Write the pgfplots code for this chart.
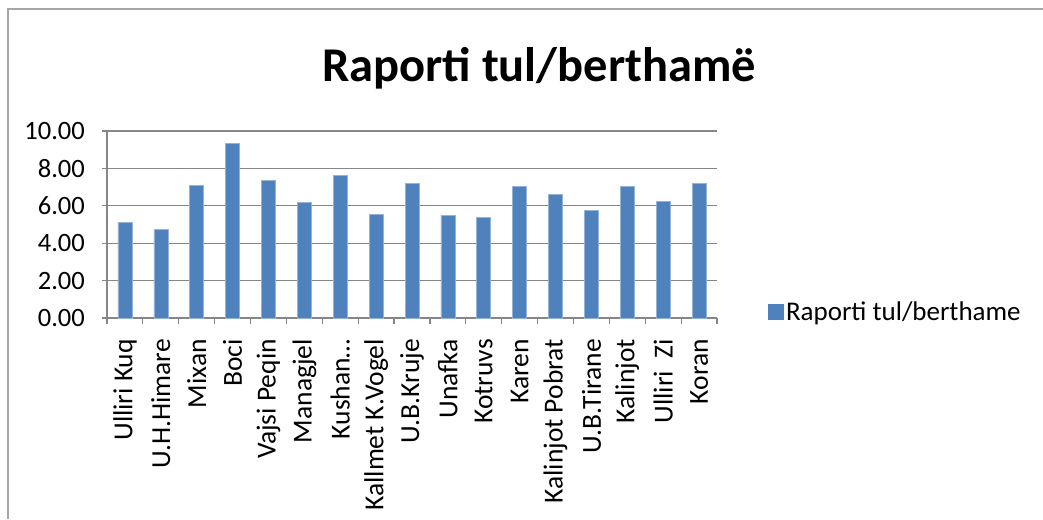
\documentclass[border=0pt]{standalone}
\usepackage{pgfplots}
\pgfplotsset{compat=1.18}
\usepackage{fontspec}
\setmainfont{Carlito}
\definecolor{barblue}{HTML}{4F81BD}
\definecolor{gridgray}{HTML}{868686}
\definecolor{framegray}{HTML}{A6A6A6}
\begin{document}
\begin{tikzpicture}[x=1pt,y=1pt]
\useasboundingbox (0,0) rectangle (1043,519);
\draw[framegray, line width=1.2pt] (8,0) -- (8,510) -- (1043,510);
\node[font=\fontsize{48.5}{52}\selectfont\bfseries] at (539,451) {Raporti tul/berthamë};
\begin{axis}[
  at={(107pt,201pt)}, anchor=south west,
  scale only axis, width=610pt, height=187pt,
  ybar, bar width=14pt,
  xmin=-0.5, xmax=16.5, ymin=0, ymax=10,
  ytick={0,2,...,10},
  yticklabel style={font=\fontsize{26.5}{30}\selectfont, inner sep=0pt,
    /pgf/number format/fixed, /pgf/number format/fixed zerofill, /pgf/number format/precision=2},
  /pgf/number format/assume math mode=true,
  ymajorgrids, grid style={gridgray, line width=1.2pt},
  axis x line*=bottom, axis y line*=left,
  axis line style={gridgray, line width=1.2pt},
  tick style={gridgray, line width=1.2pt},
  major tick length=5pt, minor tick length=6pt,
  tick align=outside,
  xtick={0,...,16},
  major x tick style={draw=none},
  minor xtick={-0.5,0.5,...,16.5},
  xticklabels={Ulliri Kuq,U.H.Himare,Mixan,Boci,Vajsi Peqin,Managjel,Kushan…,Kallmet K.Vogel,U.B.Kruje,Unafka,Kotruvs,Karen,Kalinjot Pobrat,U.B.Tirane,Kalinjot,Ulliri\ \ Zi,Koran},
  xticklabel style={rotate=90, anchor=east, font=\fontsize{27.5}{30}\selectfont, inner sep=0pt},
  xticklabel shift=16pt,
  yticklabel shift=17pt,
  legend style={at={(1.084,0.032)}, anchor=west, draw=none, fill=none, font=\fontsize{27}{30}\selectfont, inner sep=0pt},
  legend image code/.code={\fill[barblue] (0pt,-7.5pt) rectangle (15pt,7.5pt);},
]
\addplot[fill=barblue, draw=barblue!60!white, line width=0.6pt] coordinates {
(0,5.10) (1,4.74) (2,7.08) (3,9.32) (4,7.37) (5,6.20) (6,7.64) (7,5.55) (8,7.21)
(9,5.50) (10,5.37) (11,7.05) (12,6.61) (13,5.75) (14,7.05) (15,6.25) (16,7.21)};
\addlegendentry{Raporti tul/berthame}
\end{axis}
\end{tikzpicture}
\end{document}
